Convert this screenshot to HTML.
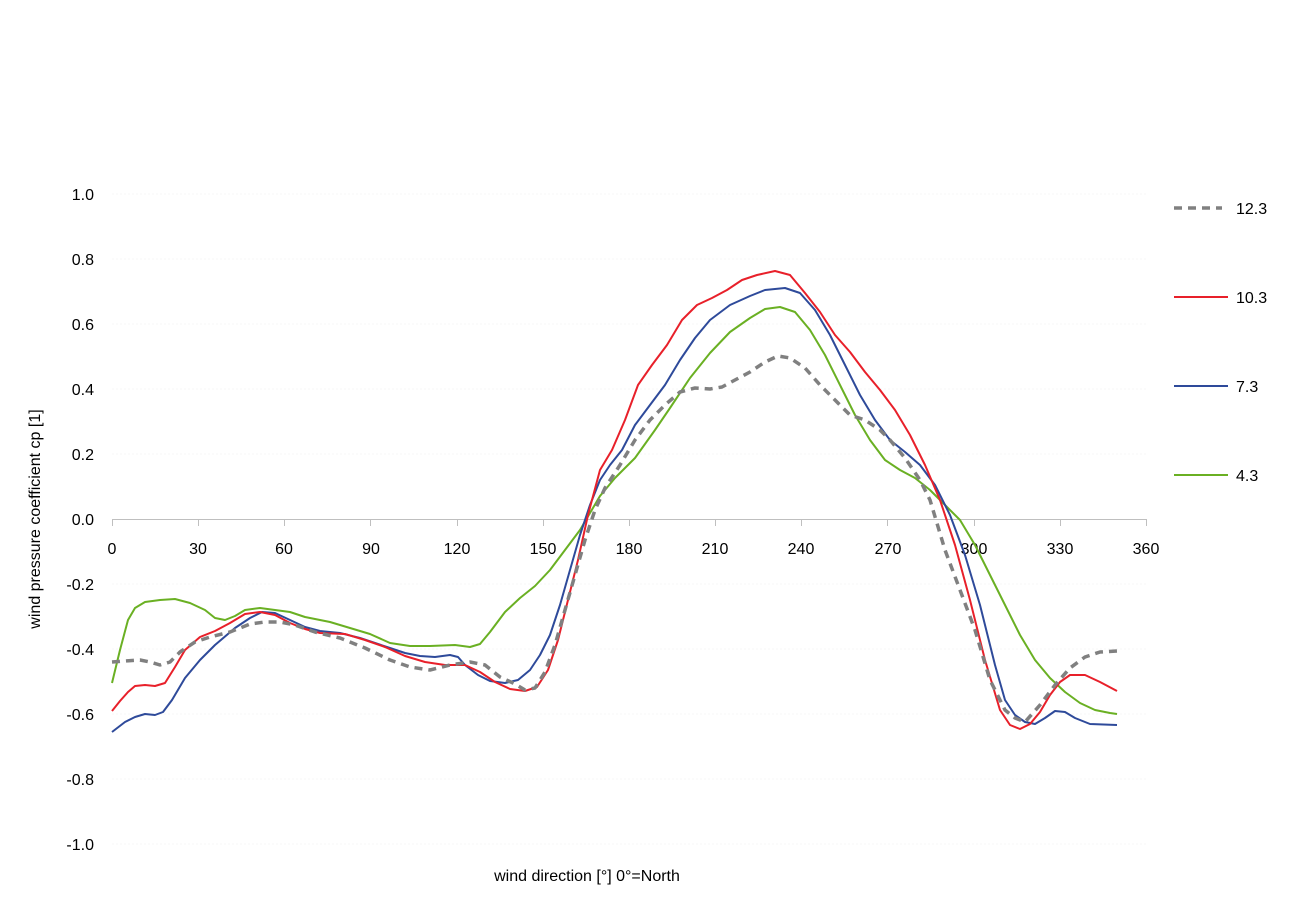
<!DOCTYPE html>
<html><head><meta charset="utf-8"><style>
body{margin:0;background:#fff}
svg text{font-family:"Liberation Sans",Arial,sans-serif;font-size:16px;fill:#000}
</style></head><body>
<svg width="1300" height="919" viewBox="0 0 1300 919" xmlns="http://www.w3.org/2000/svg">
<g stroke="#f7f7f7" stroke-width="1" stroke-dasharray="2,2">
<line x1="112" y1="194" x2="1146" y2="194"/><line x1="112" y1="259" x2="1146" y2="259"/>
<line x1="112" y1="324" x2="1146" y2="324"/><line x1="112" y1="389" x2="1146" y2="389"/>
<line x1="112" y1="454" x2="1146" y2="454"/><line x1="112" y1="584" x2="1146" y2="584"/>
<line x1="112" y1="649" x2="1146" y2="649"/><line x1="112" y1="714" x2="1146" y2="714"/>
<line x1="112" y1="779" x2="1146" y2="779"/><line x1="112" y1="844" x2="1146" y2="844"/>
</g>
<g stroke="#bfbfbf" stroke-width="1">
<line x1="112" y1="519.5" x2="1146" y2="519.5"/>
<line x1="112.5" y1="519" x2="112.5" y2="526"/><line x1="198.5" y1="519" x2="198.5" y2="526"/>
<line x1="284.5" y1="519" x2="284.5" y2="526"/><line x1="370.5" y1="519" x2="370.5" y2="526"/>
<line x1="457.5" y1="519" x2="457.5" y2="526"/><line x1="543.5" y1="519" x2="543.5" y2="526"/>
<line x1="629.5" y1="519" x2="629.5" y2="526"/><line x1="715.5" y1="519" x2="715.5" y2="526"/>
<line x1="801.5" y1="519" x2="801.5" y2="526"/><line x1="887.5" y1="519" x2="887.5" y2="526"/>
<line x1="974.5" y1="519" x2="974.5" y2="526"/><line x1="1060.5" y1="519" x2="1060.5" y2="526"/>
<line x1="1146.5" y1="519" x2="1146.5" y2="526"/>
</g>
<g text-anchor="middle">
<text x="112" y="554">0</text><text x="198" y="554">30</text><text x="284" y="554">60</text>
<text x="371" y="554">90</text><text x="457" y="554">120</text><text x="543" y="554">150</text>
<text x="629" y="554">180</text><text x="715" y="554">210</text><text x="801" y="554">240</text>
<text x="888" y="554">270</text><text x="974" y="554">300</text><text x="1060" y="554">330</text>
<text x="1146" y="554">360</text>
</g>
<g text-anchor="end">
<text x="94" y="200">1.0</text><text x="94" y="265">0.8</text><text x="94" y="330">0.6</text>
<text x="94" y="395">0.4</text><text x="94" y="460">0.2</text><text x="94" y="525">0.0</text>
<text x="94" y="590">-0.2</text><text x="94" y="655">-0.4</text><text x="94" y="720">-0.6</text>
<text x="94" y="785">-0.8</text><text x="94" y="850">-1.0</text>
</g>
<text x="587" y="881" text-anchor="middle">wind direction [°] 0°=North</text>
<text transform="translate(40,519) rotate(-90)" text-anchor="middle">wind pressure coefficient cp [1]</text>
<g fill="none" stroke-linejoin="round" stroke-linecap="butt">
<polyline stroke="#6ab023" stroke-width="2" points="112,683 120,650 128,620 135,608 145,602 160,600 175,599 190,603 205,610 215,618 225,620 235,616 245,610 260,608 275,610 290,612 305,617 330,622 350,628 370,634 390,643 410,646 430,646 455,645 470,647 480,644 490,632 505,612 520,598 535,586 550,570 565,550 580,530 590,513 600,496 615,478 635,458 655,430 670,408 690,378 710,353 730,332 750,318 765,309 780,307 795,312 810,330 825,355 840,385 855,415 870,440 885,460 900,470 915,478 930,490 945,505 960,520 975,545 990,575 1005,605 1020,635 1035,660 1050,678 1065,692 1080,703 1095,710 1110,713 1117,714"/>
<polyline stroke="#2e4a9a" stroke-width="2" points="112,732 125,722 135,717 145,714 155,715 163,712 172,700 185,678 200,660 215,645 235,628 250,618 262,612 275,613 290,620 305,627 320,631 340,633 360,638 375,643 390,648 405,653 420,656 435,657 450,655 458,657 465,665 478,675 490,681 505,683 518,680 530,670 540,655 550,635 560,605 570,570 580,535 590,505 600,480 610,465 622,450 635,425 650,405 665,385 680,360 695,338 710,320 730,305 750,296 765,290 785,288 800,293 815,310 830,335 845,365 860,395 875,420 890,440 905,452 920,465 935,485 950,515 965,555 980,605 995,665 1005,700 1015,715 1025,722 1035,724 1045,718 1055,711 1065,712 1075,718 1090,724 1117,725"/>
<polyline stroke="#e8202a" stroke-width="2" points="112,711 120,701 128,692 135,686 145,685 155,686 165,683 175,667 185,650 200,637 215,631 230,623 245,614 260,612 275,615 290,623 305,629 320,633 345,634 365,640 385,647 405,656 425,662 445,665 465,665 480,672 495,682 510,689 525,691 537,687 548,670 558,640 568,600 578,560 588,515 600,470 612,450 625,420 638,385 652,365 667,345 682,320 697,305 712,298 727,290 742,280 757,275 775,271 790,275 805,293 820,312 835,335 850,352 865,372 880,390 895,410 910,435 925,465 940,500 955,545 970,600 985,660 1000,710 1010,725 1020,729 1030,724 1040,712 1050,695 1060,682 1070,675 1085,675 1100,682 1117,691"/>
<polyline stroke="#808080" stroke-width="3.5" stroke-dasharray="8,6" points="112,662 125,661 140,660 150,662 160,665 170,662 180,652 195,642 210,637 230,632 250,624 265,622 280,622 295,625 315,632 340,638 365,648 390,660 410,667 430,670 450,665 470,662 485,665 500,677 515,684 525,690 535,688 545,672 555,645 565,610 575,575 585,540 595,510 605,488 620,465 635,440 650,420 665,405 680,392 695,388 710,389 722,387 735,380 750,372 765,362 778,356 790,358 805,368 820,385 835,400 850,415 865,420 880,430 890,440 905,458 920,480 930,500 945,550 960,590 975,630 990,680 1005,710 1015,718 1025,722 1040,705 1055,685 1070,668 1085,657 1100,652 1117,651"/>
<line x1="1174" y1="208" x2="1222" y2="208" stroke="#808080" stroke-width="3.5" stroke-dasharray="8,6"/>
<line x1="1174" y1="297" x2="1228" y2="297" stroke="#e8202a" stroke-width="2"/>
<line x1="1174" y1="386" x2="1228" y2="386" stroke="#2e4a9a" stroke-width="2"/>
<line x1="1174" y1="475" x2="1228" y2="475" stroke="#6ab023" stroke-width="2"/>
</g>
<text x="1236" y="214">12.3</text>
<text x="1236" y="303">10.3</text>
<text x="1236" y="392">7.3</text>
<text x="1236" y="481">4.3</text>
</svg>
</body></html>
